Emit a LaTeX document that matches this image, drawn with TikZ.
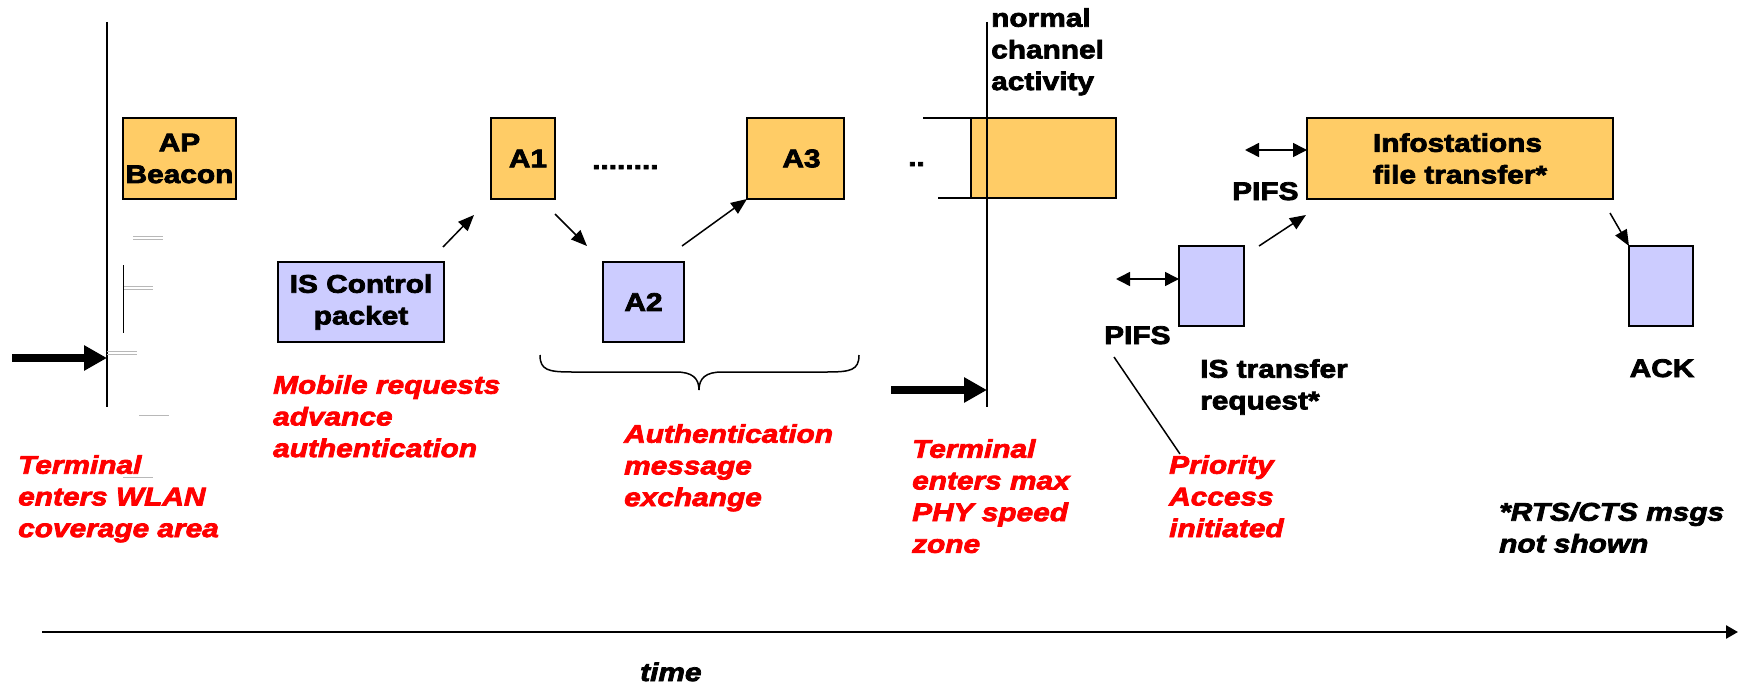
\documentclass[tikz,border=0pt]{standalone}
\usepackage{fontspec}
\setmainfont{Liberation Sans}[FakeStretch=1.17, BoldFeatures={FakeBold=3}, BoldItalicFeatures={FakeBold=3}]
\usetikzlibrary{arrows.meta}
\definecolor{boxorange}{HTML}{FFCC66}
\definecolor{boxblue}{HTML}{CCCCFF}
\definecolor{annred}{HTML}{FF0000}
\definecolor{artgray}{gray}{0.72}
\newcommand\diafont{\fontsize{25.5}{31.7}\selectfont}
\tikzset{
  pkt/.style={draw=black, line width=2pt, inner sep=0pt, outer sep=0pt, anchor=north west,
    align=center, font=\diafont\bfseries},
  orangepkt/.style={pkt, fill=boxorange},
  bluepkt/.style={pkt, fill=boxblue},
  redlabel/.style={font=\diafont\bfseries\itshape, text=annred, align=left, anchor=north west, inner sep=0pt},
  blacklabel/.style={font=\diafont\bfseries, align=left, inner sep=0pt},
  conn/.style={line width=1.5pt, -{Triangle[length=16pt,width=13pt]}},
  dblconn/.style={line width=1.5pt, {Triangle[length=14pt,width=14pt]}-{Triangle[length=14pt,width=14pt]}},
  fatarrow/.style={line width=8pt, -{Triangle[length=23pt,width=24pt]}},
  vline/.style={line width=2pt},
  thinline/.style={line width=1.5pt},
  artifact/.style={artgray, line width=1pt},
}
\begin{document}
\begin{tikzpicture}[x=1pt,y=-1pt]
\useasboundingbox (0,0) rectangle (1738,685);

% packets
\node[orangepkt, minimum width=113pt, minimum height=81pt] (beacon) at (123,118) {AP\\Beacon};
\node[bluepkt, minimum width=166pt, minimum height=80pt] (isc) at (278,262) {IS Control\\packet};
\node[orangepkt, minimum width=64pt, minimum height=81pt] (a1) at (491,118) {\hspace*{10pt}A1};
\node[bluepkt, minimum width=81pt, minimum height=80pt] (a2) at (603,262) {A2};
\node[orangepkt, minimum width=97pt, minimum height=81pt] (a3) at (747,118) {\hspace*{12pt}A3};
\node[orangepkt, minimum width=145pt, minimum height=80pt] (nca) at (971,118) {};
\node[orangepkt, minimum width=306pt, minimum height=81pt, align=left] (info) at (1307,118) {Infostations\\file transfer*};
\node[bluepkt, minimum width=65pt, minimum height=80pt] (istr) at (1179,246) {};
\node[bluepkt, minimum width=64pt, minimum height=80pt] (ackbox) at (1629,246) {};

% vertical time marks
\coordinate (v1t) at (107,22); \coordinate (v1b) at (107,407);
\coordinate (v2t) at (987,22); \coordinate (v2b) at (987,407);
\draw[vline] (v1t) -- (v1b);
\draw[vline] (v2t) -- (v2b);

% lines left of normal channel box
\coordinate (nl1) at (923,118); \coordinate (nl2) at (938,198);
\draw[vline] (nl1) -- (nca.north west);
\draw[vline] (nl2) -- (nca.south west);

% thick arrows
\coordinate (fa1) at (12,358); \coordinate (fa1e) at (107,358);
\coordinate (fa2) at (891,390); \coordinate (fa2e) at (987,390);
\draw[fatarrow] (fa1) -- (fa1e);
\draw[fatarrow] (fa2) -- (fa2e);

% connectors
\coordinate (c1s) at (443,247); \coordinate (c1e) at (474,215);
\coordinate (c2s) at (555,214); \coordinate (c2e) at (587,246);
\coordinate (c3s) at (682,246);
\coordinate (c4s) at (1259,246); \coordinate (c4e) at (1306,215);
\coordinate (c5s) at (1610,213);
\draw[conn] (c1s) -- (c1e);
\draw[conn] (c2s) -- (c2e);
\draw[conn] (c3s) -- (a3.south west);
\draw[conn] (c4s) -- (c4e);
\draw[conn] (c5s) -- (ackbox.north west);

% PIFS double arrows
\coordinate (d1s) at (1116,279);
\coordinate (d2s) at (1245,150);
\draw[dblconn] (d1s) -- (istr.west |- d1s);
\draw[dblconn] (d2s) -- (info.west |- d2s);

% brace
\draw[thinline] (540,355) .. controls (540,370) and (548,372) .. (572,372)
  -- (676,372) .. controls (692,372) and (699,378) .. (699,390)
  .. controls (699,378) and (706,372) .. (722,372)
  -- (827,372) .. controls (851,372) and (859,370) .. (859,355);

% PIFS pointer line
\coordinate (pl1) at (1114,357); \coordinate (pl2) at (1180,454);
\draw[thinline] (pl1) -- (pl2);

% time axis
\coordinate (t0) at (42,632); \coordinate (t1) at (1738,632);
\draw[line width=2.5pt, -{Triangle[length=12pt,width=13pt]}] (t0) -- (t1);

% faint artifacts
\draw[artifact] (133,236) -- (163,236) (133,239) -- (163,239);
\draw[artifact] (123,286) -- (153,286) (123,289) -- (153,289);
\draw[artifact] (107,351) -- (137,351) (107,354) -- (137,354);
\draw[artifact] (139,415) -- (169,415);
\draw[artifact] (123,477) -- (153,477);
\draw[line width=1pt] (123,265) -- (123,333);

% black labels
\node[blacklabel, anchor=north west] (nct) at (991,8) {normal\\channel\\activity};
\node[blacklabel, anchor=base west] (dots1) at (592,169) {........};
\node[blacklabel, anchor=base west] (dots2) at (908,166) {..};
\node[blacklabel, anchor=base west] (pifs1) at (1232,200) {PIFS};
\node[blacklabel, anchor=base west] (pifs2) at (1104,344) {PIFS};
\node[blacklabel, anchor=north west] (istrt) at (1200,359) {IS transfer\\request*};
\node[blacklabel, anchor=base] (ackt) at (1662,377) {ACK};
\node[blacklabel, anchor=north west, font=\diafont\bfseries\itshape] (rts) at (1499,502) {*RTS/CTS msgs\\not shown};
\node[blacklabel, anchor=base west, font=\diafont\bfseries\itshape] (timet) at (640,681) {time};

% red labels
\node[redlabel] (r1) at (18,455) {Terminal\\enters WLAN\\coverage area};
\node[redlabel] (r2) at (273,375) {Mobile requests\\advance\\authentication};
\node[redlabel] (r3) at (624,424) {Authentication\\message\\exchange};
\node[redlabel] (r4) at (912,439) {Terminal\\enters max\\PHY speed\\zone};
\node[redlabel] (r5) at (1169,455) {Priority\\Access\\initiated};
\end{tikzpicture}
\end{document}
